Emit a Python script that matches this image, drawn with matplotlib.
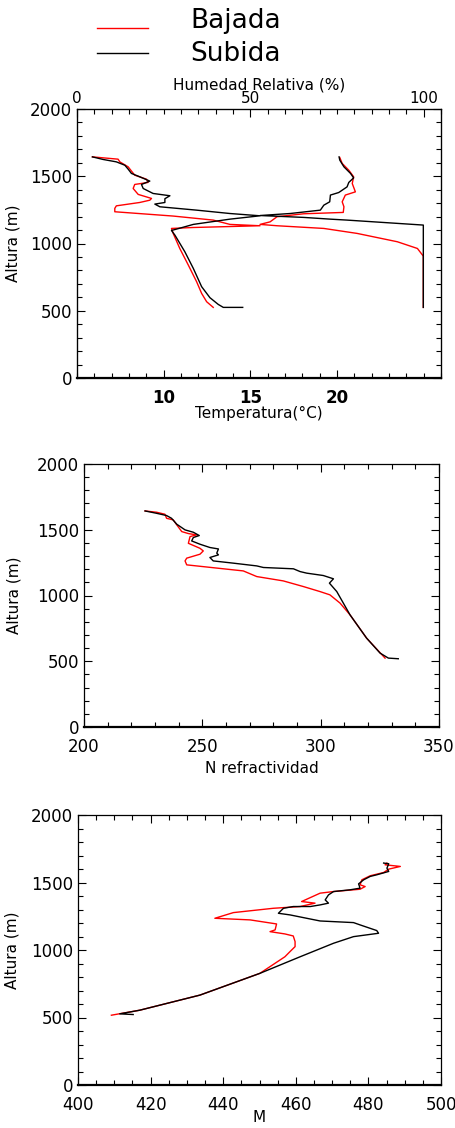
import matplotlib
matplotlib.use('Agg')
import matplotlib.pyplot as plt
from matplotlib.lines import Line2D
from matplotlib.ticker import MultipleLocator, FixedLocator

# ---- values (height in m) ----

# temperature, ascent (Subida)
temp_sub_h = [1644, 1625, 1607, 1582, 1553, 1521, 1496, 1464, 1439, 1409, 1372, 1355,
              1333, 1305, 1293, 1273, 1248, 1223, 1206, 1181, 1142, 1107, 1097, 1062,
              939, 815, 679, 597, 547, 525, 525]
temp_sub = [5.89, 6.50, 7.27, 7.76, 7.95, 8.14, 8.62, 9.20, 8.72, 8.82, 9.39, 10.36,
            10.07, 10.07, 9.49, 9.78, 11.90, 13.82, 15.56, 13.82, 11.71, 10.74, 10.45, 10.65,
            11.22, 11.71, 12.19, 12.67, 13.15, 13.44, 14.56]

# temperature, descent (Bajada)
temp_baj_h = [1644, 1627, 1607, 1570, 1508, 1478, 1454, 1439, 1409, 1365, 1335, 1322,
              1305, 1280, 1261, 1236, 1204, 1174, 1142, 1132, 1119, 1112, 1075, 963,
              840, 716, 629, 567, 525]
temp_baj = [5.89, 7.37, 7.47, 7.95, 8.33, 9.01, 9.10, 8.33, 8.24, 8.53, 9.30, 9.20,
            8.62, 7.27, 7.18, 7.18, 10.55, 12.86, 13.82, 15.56, 11.71, 10.45, 10.55, 10.93,
            11.42, 11.90, 12.19, 12.48, 12.86]

# relative humidity, ascent
hum_sub_h = [1644, 1620, 1570, 1521, 1488, 1454, 1421, 1379, 1360, 1310, 1285, 1248,
             1223, 1208, 1194, 1181, 1174, 1137, 525]
hum_sub = [75.6, 75.8, 77.0, 78.9, 79.8, 78.4, 77.9, 75.5, 73.1, 72.9, 71.2, 70.2,
           61.5, 52.8, 65.4, 73.1, 77.9, 99.9, 99.9]

# relative humidity, descent
hum_baj_h = [1639, 1595, 1545, 1496, 1446, 1384, 1360, 1310, 1273, 1231, 1221, 1199,
             1161, 1142, 1132, 1112, 1075, 1013, 963, 906, 525]
hum_baj = [75.8, 76.5, 78.4, 79.8, 79.4, 80.3, 77.4, 76.5, 77.0, 76.8, 65.4, 57.7,
           55.7, 52.8, 57.7, 71.2, 80.8, 92.4, 98.2, 99.9, 99.9]

# refractivity N
n_sub_h = [1643, 1625, 1608, 1587, 1542, 1499, 1481, 1456, 1441, 1415, 1390, 1365,
           1354, 1322, 1309, 1289, 1263, 1246, 1225, 1213, 1203, 1182, 1170, 1152,
           1127, 1094, 1030, 853, 676, 562, 524, 519]
n_sub = [225.8, 230.7, 234.9, 237.0, 239.2, 242.7, 246.2, 248.7, 246.2, 245.5, 249.0, 253.2,
         256.8, 256.1, 256.8, 253.2, 254.6, 263.1, 273.0, 275.8, 288.5, 291.3, 294.1, 301.1,
         305.4, 303.7, 306.8, 312.4, 319.4, 325.1, 328.6, 332.8]

n_baj_h = [1643, 1633, 1618, 1587, 1575, 1537, 1486, 1471, 1461, 1448, 1397, 1359,
           1339, 1314, 1284, 1263, 1233, 1195, 1187, 1144, 1111, 1068, 1030, 1005,
           942, 853, 676, 524]
n_baj = [225.8, 230.7, 234.2, 234.9, 237.7, 239.2, 241.3, 244.1, 247.6, 244.8, 244.1, 249.0,
         250.4, 249.0, 243.4, 242.7, 243.4, 263.1, 267.3, 273.0, 284.2, 292.7, 299.7, 303.9,
         308.2, 312.4, 319.4, 327.2]

# modified refractivity M
m_sub_h = [1644, 1639, 1606, 1582, 1557, 1545, 1520, 1490, 1458, 1446, 1433, 1408,
           1371, 1347, 1334, 1322, 1322, 1309, 1272, 1260, 1235, 1215, 1203, 1186,
           1144, 1124, 1099, 1050, 950, 827, 666, 554, 527, 522]
m_sub = [484.2, 485.6, 485.1, 485.6, 482.3, 480.5, 478.7, 477.3, 477.7, 475.0, 470.4, 469.0,
         468.1, 469.0, 466.7, 464.0, 459.3, 456.6, 455.2, 458.4, 463.0, 466.7, 475.9, 477.7,
         482.3, 482.8, 475.9, 470.4, 461.2, 450.1, 433.6, 417.0, 411.5, 415.2]

m_baj_h = [1644, 1631, 1619, 1599, 1574, 1550, 1520, 1483, 1470, 1450, 1433, 1421,
           1376, 1359, 1347, 1322, 1309, 1277, 1235, 1223, 1193, 1149, 1136, 1119,
           1104, 1062, 1025, 988, 950, 827, 666, 554, 517]
m_baj = [485.1, 484.6, 488.8, 485.6, 484.2, 480.5, 478.2, 477.7, 479.1, 477.7, 470.4, 466.7,
         463.0, 461.6, 465.3, 461.2, 453.8, 442.8, 437.7, 447.4, 454.7, 454.3, 452.9, 457.0,
         459.3, 459.8, 459.8, 458.4, 457.0, 450.1, 433.6, 417.0, 409.2]

W, H = 455, 1128
fig = plt.figure(figsize=(W / 100, H / 100), dpi=100)
plt.rcParams['font.family'] = 'DejaVu Sans'


def box(left, top, right, bottom):
    return [left / W, 1 - bottom / H, (right - left) / W, (bottom - top) / H]


def style(ax, xmaj, xmin, top=True):
    ax.set_ylim(0, 2000)
    ax.yaxis.set_major_locator(MultipleLocator(500))
    ax.yaxis.set_minor_locator(MultipleLocator(100))
    ax.xaxis.set_major_locator(xmaj)
    ax.xaxis.set_minor_locator(MultipleLocator(xmin))
    ax.tick_params(which='both', direction='in', left=True, right=True,
                   bottom=True, top=top, labelsize=12, width=0.8)
    ax.tick_params(which='major', length=6)
    ax.tick_params(which='minor', length=3.5)
    ax.tick_params(axis='x', pad=8)
    ax.set_ylabel('Altura (m)', fontsize=11)
    for s in ax.spines.values():
        s.set_linewidth(0.9)
    ax.spines['bottom'].set_linewidth(1.6)


# ---- panel 1: temperature and humidity ----
ax1 = fig.add_axes(box(77, 109, 441, 378))
ax1.plot(temp_baj, temp_baj_h, color='red', lw=1)
ax1.plot(temp_sub, temp_sub_h, color='black', lw=1)
ax1.set_xlim(5, 26)
style(ax1, FixedLocator([10, 15, 20]), 1, top=False)
for lbl in ax1.get_xticklabels():
    lbl.set_fontweight('bold')
ax1.set_xlabel('Temperatura(°C)', fontsize=11)
ax1.xaxis.set_label_coords(0.5, -0.105)
ax1.yaxis.set_label_coords(-0.155, 0.5)

ax1t = ax1.twiny()
ax1t.plot(hum_baj, hum_baj_h, color='red', lw=1)
ax1t.plot(hum_sub, hum_sub_h, color='black', lw=1)
ax1t.set_xlim(0, 105)
ax1t.xaxis.set_major_locator(FixedLocator([0, 50, 100]))
ax1t.xaxis.set_minor_locator(MultipleLocator(5))
ax1t.tick_params(which='both', direction='in', top=True, bottom=False,
                 labelsize=11, pad=2, width=0.8)
ax1t.tick_params(which='major', length=6)
ax1t.tick_params(which='minor', length=3.5)
ax1t.set_xlabel('Humedad Relativa (%)', fontsize=11, labelpad=1)

# ---- panel 2: refractivity ----
ax2 = fig.add_axes(box(84, 464, 439, 727))
ax2.plot(n_baj, n_baj_h, color='red', lw=1)
ax2.plot(n_sub, n_sub_h, color='black', lw=1)
ax2.set_xlim(200, 350)
style(ax2, MultipleLocator(50), 10)
ax2.set_xlabel('N refractividad', fontsize=11)
ax2.xaxis.set_label_coords(0.5, -0.128)
ax2.yaxis.set_label_coords(-0.175, 0.5)

# ---- panel 3: M ----
ax3 = fig.add_axes(box(78, 815, 441, 1085))
ax3.plot(m_baj, m_baj_h, color='red', lw=1)
ax3.plot(m_sub, m_sub_h, color='black', lw=1)
ax3.set_xlim(400, 500)
style(ax3, MultipleLocator(20), 5)
ax3.set_xlabel('M', fontsize=11)
ax3.xaxis.set_label_coords(0.5, -0.093)
ax3.yaxis.set_label_coords(-0.16, 0.5)

# ---- legend at the top ----
fig.add_artist(Line2D([97 / W, 148 / W], [1 - 28 / H, 1 - 28 / H], color='red', lw=1))
fig.add_artist(Line2D([97 / W, 148 / W], [1 - 53 / H, 1 - 53 / H], color='black', lw=1))
fig.text(190 / W, 1 - 28 / H, 'Bajada', fontsize=19, va='baseline')
fig.text(190 / W, 1 - 61 / H, 'Subida', fontsize=19, va='baseline')

fig.savefig('out.png', dpi=100)
